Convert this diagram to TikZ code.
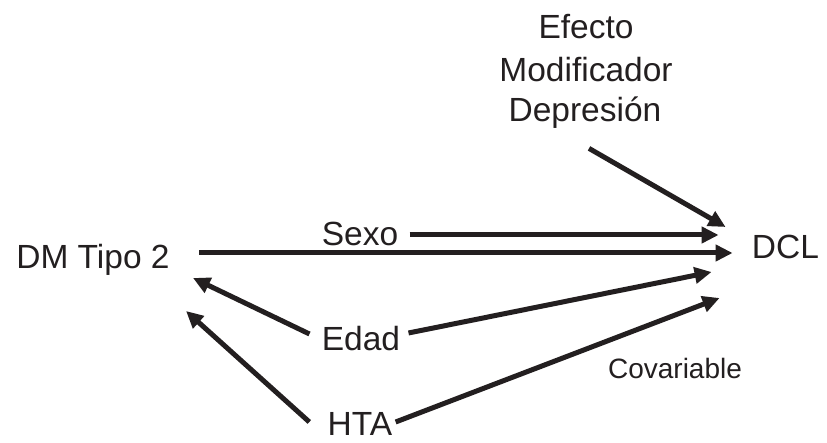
\documentclass[tikz,border=0pt]{standalone}
\usepackage{fontspec}
\setmainfont{Liberation Sans}
\usetikzlibrary{arrows.meta,calc}
\definecolor{ink}{RGB}{35,31,32}
\tikzset{
  lbl/.style={inner sep=0pt, text height=12pt, text depth=0pt, text=ink,
    font=\fontsize{16.75}{20.75}\selectfont},
  smalllbl/.style={lbl, text height=10pt, font=\fontsize{14}{17}\selectfont},
  arr/.style={draw=ink, line width=2.5pt, -{Triangle[length=8.5pt,width=8pt]}}
}
\begin{document}
\begin{tikzpicture}[x=0.5pt,y=-0.5pt]
\useasboundingbox (0,0) rectangle (827,443);

%exposure and outcome
\node[lbl] (dm) at (93,257) {DM Tipo 2};
\node[lbl] (dcl) at (785.5,246.5) {DCL};

%effect modifier
\node[lbl] (efecto) at (586,27) {Efecto};
\node[lbl] (modif) at (586,69.5) {Modificador};
\node[lbl] (depre) at (585,109.5) {Depresión};

%covariables
\node[lbl] (sexo) at (360,234) {Sexo};
\node[lbl] (edad) at (361,339) {Edad};
\node[lbl] (hta) at (360,424) {HTA};
\node[smalllbl] (cov) at (675,369) {Covariable};

%main arrow
\draw[arr] ($(dm.east)+(29,-4)$) -- ($(dcl.west)+(-19,6.5)$);
%arrows into DCL
\draw[arr] ($(sexo.east)+(11,1)$) -- ($(dcl.west)+(-33,-11.5)$);
\draw[arr] ($(depre.south)+(4,26.5)$) -- ($(dcl.west)+(-26,-19.5)$);
\draw[arr] ($(edad.east)+(8,-6)$) -- ($(dcl.west)+(-40,25.5)$);
\draw[arr] ($(hta.east)+(3,-2)$) -- ($(dcl.west)+(-32,51.5)$);
%arrows into DM
\draw[arr] ($(edad.west)+(-12,-5)$) -- ($(dm.east)+(23,21)$);
\draw[arr] ($(hta.west)+(-18,-2)$) -- ($(dm.east)+(16,54)$);

\end{tikzpicture}
\end{document}
